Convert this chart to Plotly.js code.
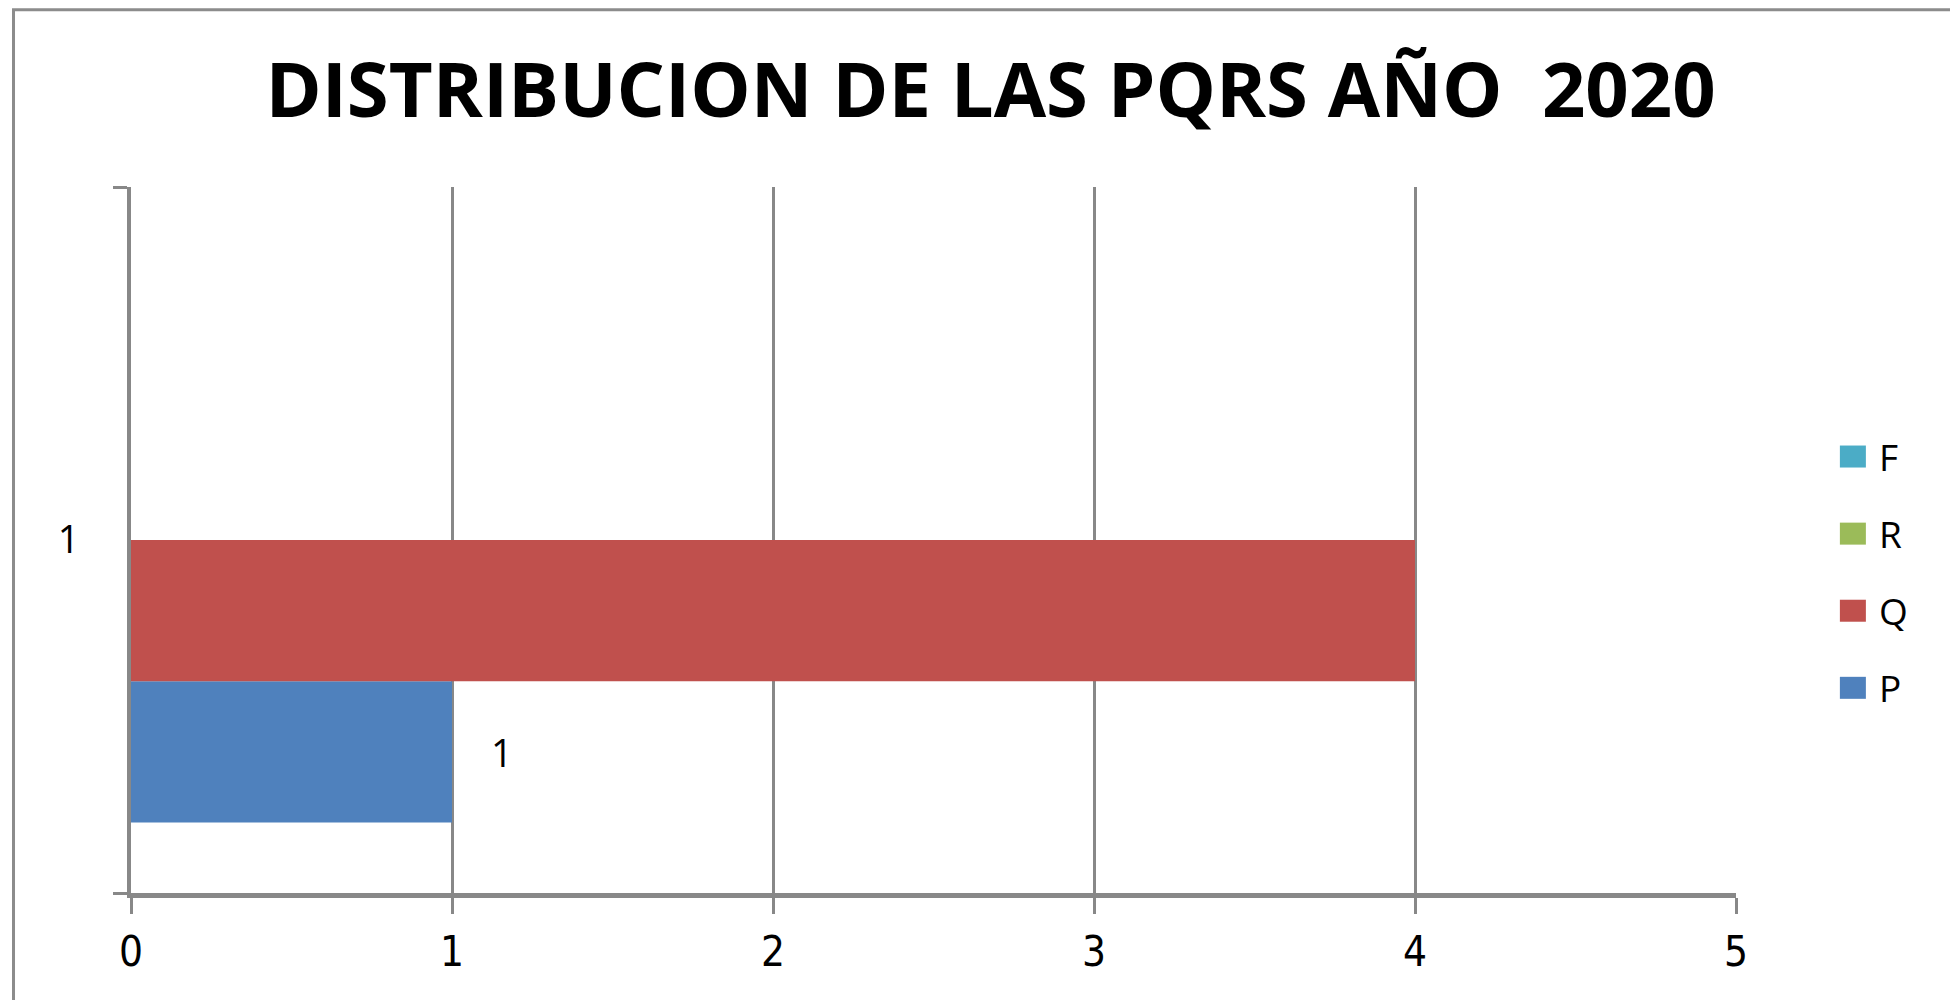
<!DOCTYPE html>
<html>
<head>
<meta charset="utf-8">
<script src="https://cdn.plot.ly/plotly-3.0.1.min.js"></script>
<style>
html,body{margin:0;padding:0;background:#fff;}
#chart{width:1950px;height:1000px;}
</style>
</head>
<body>
<div id="chart"></div>
<script>
// ---- data ----
const categories = ["1"];
const seriesNames = ["P", "Q", "R", "F"];
const pValues = [1];
const qValues = [4];
const rValues = [0];
const fValues = [0];
const seriesColors = ["#4F81BD", "#C0504D", "#9BBB59", "#4BACC6"];
const xTickVals = [0, 1, 2, 3, 4, 5];
const titleText = "DISTRIBUCION DE LAS PQRS AÑO  2020";

const seriesValues = [pValues, qValues, rValues, fValues];
const bargap = 0.2;

const traces = seriesNames.map((name, i) => ({
  type: "bar",
  orientation: "h",
  name: name,
  x: seriesValues[i],
  y: categories,
  marker: { color: seriesColors[i], line: { width: 0 } },
  legendgroup: name,
  legendrank: seriesNames.length - i,
  hoverinfo: "x+name"
}));

// data label for P (only labeled series in the reference)
const groupW = 1 - bargap;
const barW = groupW / seriesNames.length;
const pCenter = -groupW / 2 + barW / 2;

const tickFont = { family: "DejaVu Sans Condensed, Liberation Sans Narrow, Open Sans, sans-serif", size: 42, color: "#000" };
const labelFont = { family: "Open Sans, sans-serif", size: 38, color: "#000" };

const layout = {
  width: 1950,
  height: 1000,
  paper_bgcolor: "#ffffff",
  plot_bgcolor: "#ffffff",
  margin: { l: 130.5, r: 214, t: 186.5, b: 107, pad: 0 },
  title: {
    text: titleText,
    font: { family: "Open Sans, sans-serif", size: 76, color: "#000", weight: 700 },
    x: 0.508,
    xanchor: "center",
    y: 0.91,
    yanchor: "middle"
  },
  barmode: "group",
  bargap: bargap,
  bargroupgap: 0,
  xaxis: {
    range: [0, 5],
    tickvals: xTickVals,
    ticks: "outside",
    ticklen: 16,
    tickwidth: 3,
    tickcolor: "#888888",
    showgrid: true,
    gridcolor: "#888888",
    gridwidth: 3,
    zeroline: false,
    showline: true,
    linecolor: "#888888",
    linewidth: 5,
    tickfont: tickFont,
    ticklabelstandoff: 2,
    fixedrange: true
  },
  yaxis: {
    type: "category",
    range: [-0.5, 0.5],
    tickson: "boundaries",
    ticks: "outside",
    ticklen: 14,
    tickwidth: 3,
    tickcolor: "#888888",
    showgrid: false,
    zeroline: false,
    showline: true,
    linecolor: "#888888",
    linewidth: 4,
    tickfont: labelFont,
    ticklabelstandoff: 40,
    fixedrange: true
  },
  showlegend: true,
  legend: {
    x: 1.0641,
    xanchor: "left",
    y: 0.454,
    yanchor: "middle",
    traceorder: "grouped",
    tracegroupgap: 26,
    font: { family: "Open Sans, sans-serif", size: 37, color: "#000" },
    bgcolor: "rgba(0,0,0,0)",
    borderwidth: 0
  },
  annotations: [{
    x: pValues[0],
    y: pCenter,
    xref: "x",
    yref: "y",
    text: String(pValues[0]),
    showarrow: false,
    xanchor: "center",
    yanchor: "middle",
    xshift: 50,
    font: labelFont
  }],
  shapes: [{
    type: "rect",
    xref: "paper",
    yref: "paper",
    x0: -0.0732,
    x1: 1.3,
    y0: -0.3,
    y1: 1.2512,
    line: { color: "#8c8c8c", width: 3 },
    fillcolor: "rgba(0,0,0,0)",
    layer: "below"
  }]
};

function enlargeLegendSymbols(gd) {
  gd.querySelectorAll("g.legendpoints path").forEach(p => {
    p.setAttribute("d", "M27,11H1V-11H27Z");
    p.removeAttribute("transform");
    p.style.strokeWidth = "0px";
  });
}

const gdDiv = document.getElementById("chart");
Plotly.newPlot(gdDiv, traces, layout, { displayModeBar: false, staticPlot: true }).then(gd => {
  enlargeLegendSymbols(gd);
  gd.on && gd.on("plotly_afterplot", () => enlargeLegendSymbols(gd));
  [50, 300, 800, 1500].forEach(t => setTimeout(() => enlargeLegendSymbols(gd), t));
});
</script>
</body>
</html>
